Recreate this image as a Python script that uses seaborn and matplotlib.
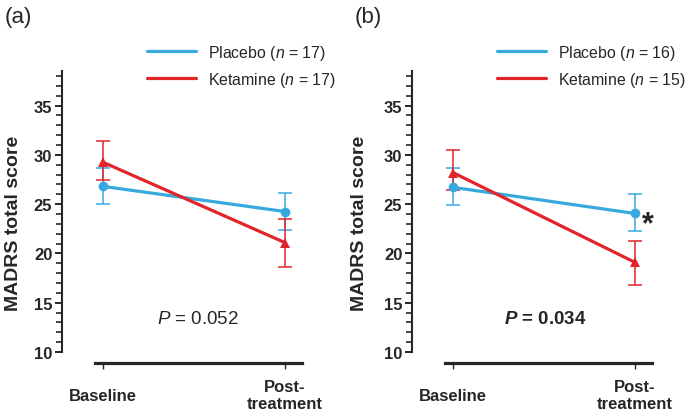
import numpy as np
import pandas as pd
import matplotlib
matplotlib.use("Agg")
import matplotlib.pyplot as plt
from matplotlib.lines import Line2D
import seaborn as sns

# Données
timepoints = ["Baseline", "Post-\ntreatment"]
groups = ["Placebo", "Ketamine"]

# (a)
a_placebo_mean = [26.8, 24.25]
a_placebo_lo = [24.97, 22.35]
a_placebo_hi = [28.64, 26.09]
a_ketamine_mean = [29.25, 21.1]
a_ketamine_lo = [27.48, 18.6]
a_ketamine_hi = [31.45, 23.45]
a_n = [17, 17]
a_pval = "0.052"

# (b)
b_placebo_mean = [26.7, 24.05]
b_placebo_lo = [24.93, 22.3]
b_placebo_hi = [28.64, 26.0]
b_ketamine_mean = [28.2, 19.1]
b_ketamine_lo = [26.46, 16.8]
b_ketamine_hi = [30.44, 21.3]
b_n = [16, 15]
b_pval = "0.034"

colors = {"Placebo": "#38A9DE", "Ketamine": "#E2252B"}
markers = {"Placebo": "o", "Ketamine": "^"}

sns.set_style("ticks")
plt.rcParams["font.family"] = ["Liberation Sans", "DejaVu Sans"]
plt.rcParams["mathtext.fontset"] = "custom"
plt.rcParams["mathtext.rm"] = "Liberation Sans"
plt.rcParams["mathtext.it"] = "Liberation Sans:italic"
plt.rcParams["mathtext.bf"] = "Liberation Sans:bold"
plt.rcParams["mathtext.bfit"] = "Liberation Sans:bold:italic"

fig = plt.figure(figsize=(6.89, 4.14), dpi=100)
W, H = 689, 414


def make_df(p_mean, k_mean):
    rows = []
    for g, vals in zip(groups, [p_mean, k_mean]):
        for i, v in enumerate(vals):
            rows.append({"x": i, "score": v, "group": g})
    return pd.DataFrame(rows)


def draw_panel(left_px, letter, p_mean, p_lo, p_hi, k_mean, k_lo, k_hi, n, pval, bold_p, star, ylab_x):
    ax = fig.add_axes([left_px / W, 1 - 353 / H, 241 / W, (353 - 72) / H])
    df = make_df(p_mean, k_mean)
    sns.lineplot(data=df, x="x", y="score", hue="group", style="group",
                 palette=colors, markers=markers, dashes=False, errorbar=None,
                 legend=False, linewidth=2.3, markersize=7, markeredgewidth=0, ax=ax)
    for g, m, lo, hi in [("Placebo", p_mean, p_lo, p_hi), ("Ketamine", k_mean, k_lo, k_hi)]:
        m = np.array(m)
        yerr = [m - np.array(lo), np.array(hi) - m]
        ax.errorbar([0, 1], m, yerr=yerr, fmt="none", ecolor=colors[g],
                    elinewidth=1.1, capsize=4.7, capthick=1.1, zorder=1)

    # spines first (set_position resets the ticks)
    for s in ["top", "right"]:
        ax.spines[s].set_visible(False)
    ax.spines["bottom"].set_position(("outward", 8))
    ax.spines["left"].set_linewidth(1.5)
    ax.spines["bottom"].set_linewidth(2.3)

    ax.set_xlim(-0.225, 1.1)
    ax.set_ylim(10, 38.5)
    ax.spines["left"].set_bounds(10, 38.5)
    ax.spines["bottom"].set_bounds(-0.044, 1.093)
    ax.set_yticks(range(10, 36, 5))
    ax.set_yticks(range(10, 39), minor=True)
    ax.set_xticks([0, 1])
    ax.tick_params(axis="x", length=4, width=1, pad=19)
    ax.tick_params(axis="y", which="major", length=5, width=1.4, pad=2, labelsize=12)
    ax.tick_params(axis="y", which="minor", length=4, width=1.2)
    ax.set_xticklabels(timepoints, fontsize=12, fontweight="bold", linespacing=1.1, va="center")
    for lab in ax.get_yticklabels():
        lab.set_fontweight("bold")

    ax.set_xlabel("")
    ax.set_ylabel("MADRS total score", fontsize=14, fontweight="bold")
    ax.yaxis.set_label_coords(ylab_x, 0.46)

    if bold_p:
        ax.text(0.51, 13.4, r"$\mathbfit{P}$ = " + pval, fontsize=13.5, fontweight="bold",
                ha="center", va="center")
    else:
        ax.text(0.52, 13.4, r"$P$ = " + pval, fontsize=13.5, ha="center", va="center")
    if star:
        ax.text(1.07, 23.0, "*", fontsize=22, fontweight="bold", ha="center", va="center")

    handles = [Line2D([], [], color=colors[g], linewidth=2.3) for g in groups]
    labels = [f"{g} ($n$ = {k})" for g, k in zip(groups, n)]
    ax.legend(handles, labels, loc="upper left",
              bbox_to_anchor=((left_px + 85) / W, 1 - 44 / H), bbox_transform=fig.transFigure,
              frameon=False, fontsize=11.4, handlelength=3.1, handletextpad=0.75,
              labelspacing=0.5, borderpad=0, borderaxespad=0)

    fig.text((left_px - 44) / W, 1 - 17 / H, letter, fontsize=16, ha="center", va="center")
    return ax


draw_panel(62, "(a)", a_placebo_mean, a_placebo_lo, a_placebo_hi,
           a_ketamine_mean, a_ketamine_lo, a_ketamine_hi, a_n, a_pval, False, False, -0.166)
draw_panel(412, "(b)", b_placebo_mean, b_placebo_lo, b_placebo_hi,
           b_ketamine_mean, b_ketamine_lo, b_ketamine_hi, b_n, b_pval, True, True, -0.183)

fig.savefig("out.png", dpi=100)
